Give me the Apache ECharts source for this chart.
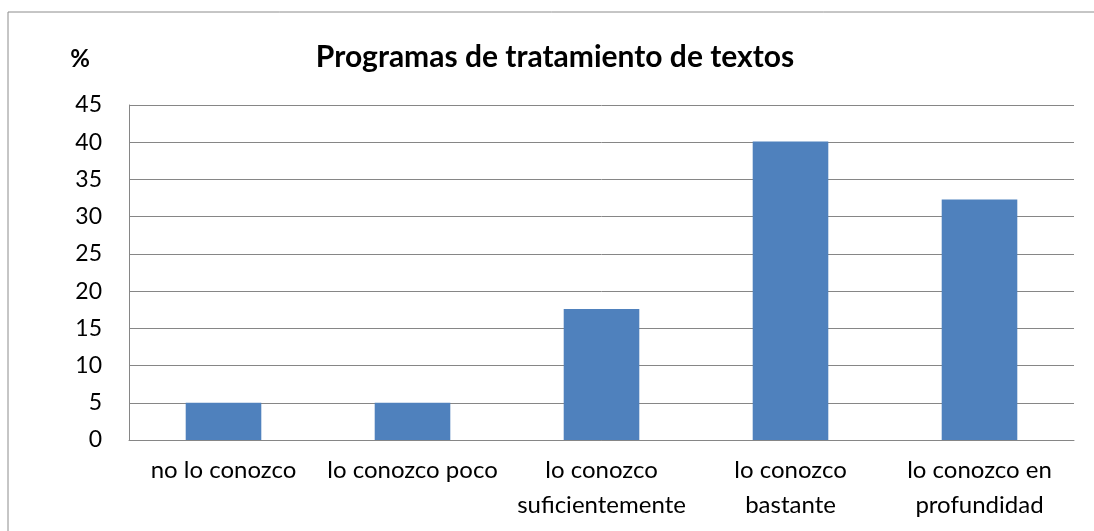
<!DOCTYPE html>
<html>
<head>
<meta charset="utf-8">
<script src="https://cdn.jsdelivr.net/npm/echarts@6/dist/echarts.min.js"></script>
<style>
  html, body { margin: 0; padding: 0; background: #fff; }
  #chart { width: 1094px; height: 531px; }
</style>
</head>
<body>
<div id="chart"></div>
<script>
// datos
var categories = [
  "no lo conozco",
  "lo conozco poco",
  "lo conozco\nsuficientemente",
  "lo conozco\nbastante",
  "lo conozco en\nprofundidad"
];
var values = [5, 5, 17.6, 40.1, 32.3];
var yTicks = { min: 0, max: 45, interval: 5 };

var FONT = "Lato, 'Open Sans', sans-serif";
var chart = echarts.init(document.getElementById("chart"));

var option = {
  animation: false,
  backgroundColor: "#fff",
  graphic: [
    {
      type: "rect",
      shape: { x: 8, y: 12, width: 1200, height: 700 },
      style: { fill: "none", stroke: "#8c8c8c", lineWidth: 1 }
    },
    {
      type: "text",
      x: 555, y: 57,
      style: {
        text: "Programas de tratamiento de textos",
        font: "bold 30px " + FONT,
        fill: "#000",
        align: "center",
        verticalAlign: "middle"
      }
    },
    {
      type: "text",
      x: 80, y: 59,
      style: {
        text: "%",
        font: "bold 24px " + FONT,
        fill: "#000",
        align: "center",
        verticalAlign: "middle"
      }
    }
  ],
  grid: { left: 129, right: 20, top: 105, bottom: 91 },
  xAxis: {
    type: "category",
    data: categories,
    axisLine: { show: true, lineStyle: { color: "#868686", width: 1 } },
    axisTick: { show: false },
    axisLabel: {
      interval: 0,
      color: "#000",
      fontFamily: FONT,
      fontSize: 24,
      lineHeight: 35,
      margin: 13
    }
  },
  yAxis: {
    type: "value",
    min: yTicks.min,
    max: yTicks.max,
    interval: yTicks.interval,
    axisLine: { show: true, lineStyle: { color: "#868686", width: 1 } },
    axisTick: { show: false },
    splitLine: { show: true, lineStyle: { color: "#868686", width: 1 } },
    axisLabel: {
      color: "#000",
      fontFamily: FONT,
      fontSize: 23,
      margin: 27
    }
  },
  series: [
    {
      type: "bar",
      data: values,
      barWidth: "40%",
      itemStyle: { color: "#4F81BD" }
    }
  ]
};

chart.setOption(option);
</script>
</body>
</html>
